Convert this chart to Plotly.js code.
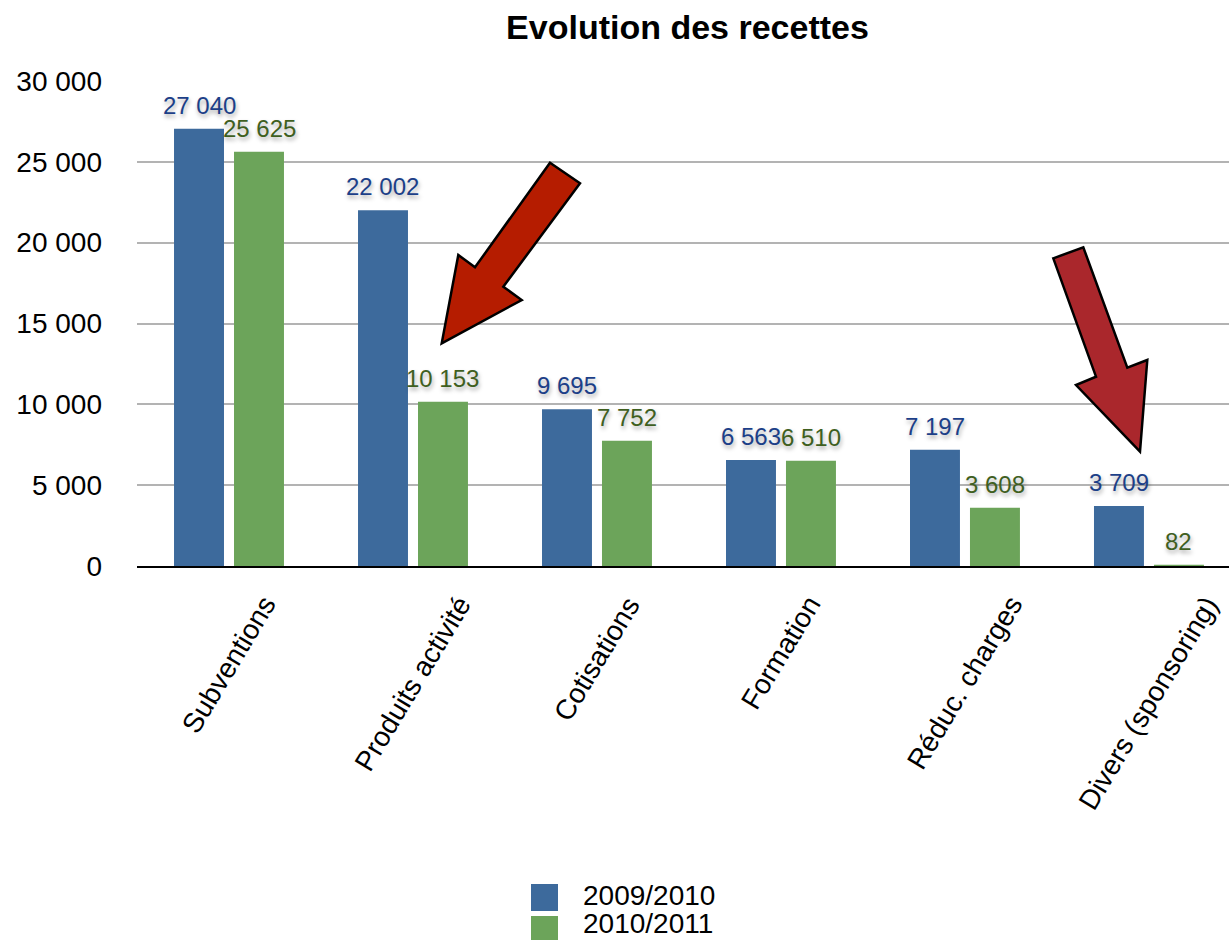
<!DOCTYPE html>
<html>
<head>
<meta charset="utf-8">
<script src="https://cdn.plot.ly/plotly-3.0.1.min.js"></script>
<style>html,body{margin:0;padding:0;background:#fff;}#chart{width:1229px;height:940px;}</style>
</head>
<body>
<div id="chart"></div>
<script>
// ---- data ----
const chartTitle = 'Evolution des recettes';
const categories = ['Subventions', 'Produits activité', 'Cotisations', 'Formation', 'Réduc. charges', 'Divers (sponsoring)'];
const seriesNames = ['2009/2010', '2010/2011'];
const values2009 = [27040, 22002, 9695, 6563, 7197, 3709];
const values2010 = [25625, 10153, 7752, 6510, 3608, 82];
const yTickVals = [0, 5000, 10000, 15000, 20000, 25000, 30000];
const yTickText = ['0', '5 000', '10 000', '15 000', '20 000', '25 000', '30 000'];

// ---- styling ----
const W = 1229, H = 940;
const M = {l: 137, r: 0, t: 81, b: 374};
const PW = W - M.l - M.r, PH = H - M.t - M.b;
const px = x => (x - M.l) / PW;
const py = y => (H - M.b - y) / PH;
const FONT = 'Liberation Sans, Arial, Helvetica, sans-serif';
const colors = ['#3d6a9c', '#6ca45a'];
const labelColors = ['#1c3f88', '#3f5f1f'];
const fmt = v => String(v).replace(/\B(?=(\d{3})+(?!\d))/g, ' ');

const traces = [values2009, values2010].map((vals, i) => ({
  type: 'bar',
  x: categories,
  y: vals,
  name: seriesNames[i],
  marker: {color: colors[i], line: {width: 0}},
  showlegend: false,
  hoverinfo: 'x+y+name'
}));

const annotations = [];
[values2009, values2010].forEach((vals, i) => {
  vals.forEach((v, j) => {
    annotations.push({
      x: categories[j], y: v, xref: 'x', yref: 'y',
      xshift: i === 0 ? -30 : 30, yshift: 8,
      xanchor: 'center', yanchor: 'bottom',
      text: fmt(v), showarrow: false,
      font: {family: FONT, size: 24, color: labelColors[i], shadow: '1px 3px 4px rgba(0,0,0,0.35)'}
    });
  });
});
categories.forEach(c => {
  annotations.push({
    x: c, y: 0, xref: 'x', yref: 'paper',
    xanchor: 'center', yanchor: 'top', yshift: -22,
    text: c, textangle: -59, showarrow: false,
    font: {family: FONT, size: 28, color: '#000'}
  });
});
// legend
const legendY = [895, 923];
seriesNames.forEach((n, i) => {
  annotations.push({
    x: px(582), y: py(legendY[i]), xref: 'paper', yref: 'paper',
    xanchor: 'left', yanchor: 'middle', text: n, showarrow: false, borderpad: 0,
    font: {family: FONT, size: 28, color: '#000'}
  });
});

function pathFrom(pts) {
  return 'M' + pts.map(p => px(p[0]).toFixed(5) + ',' + py(p[1]).toFixed(5)).join(' L') + ' Z';
}
const arrow1 = [[550, 162.7], [580, 183.3], [503.3, 286.7], [521.7, 300], [441.7, 343.3], [458.3, 255], [475, 267.3]];
const arrow2 = [[1053.3, 258.3], [1083.3, 247.3], [1127.3, 367.7], [1147.3, 360], [1140, 451.7], [1076, 385], [1096, 376.7]];

const shapes = [
  {type: 'path', xref: 'paper', yref: 'paper', path: pathFrom(arrow1), fillcolor: '#b51c00', line: {color: '#000', width: 2.5}, layer: 'above'},
  {type: 'path', xref: 'paper', yref: 'paper', path: pathFrom(arrow2), fillcolor: '#aa272c', line: {color: '#000', width: 2.5}, layer: 'above'},
  {type: 'rect', xref: 'paper', yref: 'paper', x0: px(531), x1: px(558), y0: py(884), y1: py(911), fillcolor: colors[0], line: {width: 0}},
  {type: 'rect', xref: 'paper', yref: 'paper', x0: px(531), x1: px(558), y0: py(916), y1: py(943), fillcolor: colors[1], line: {width: 0}}
];

const layout = {
  width: W, height: H,
  margin: M,
  paper_bgcolor: '#fff', plot_bgcolor: '#fff',
  font: {family: FONT, size: 28, color: '#000'},
  title: {
    text: chartTitle, xref: 'container', yref: 'container',
    x: 687.5 / W, y: 1 - 27 / H, xanchor: 'center', yanchor: 'middle',
    font: {family: FONT, size: 34, weight: 'bold', color: '#000'}
  },
  barmode: 'group', bargap: 0.348, bargroupgap: 0.167,
  showlegend: false,
  xaxis: {
    type: 'category', range: [-0.5, 5.435],
    showticklabels: false, ticks: '', showgrid: false, zeroline: false,
    showline: true, linecolor: '#000', linewidth: 2, layer: 'above traces'
  },
  yaxis: {
    range: [0, 30000], tickvals: yTickVals, ticktext: yTickText,
    showgrid: true, gridcolor: '#b3b3b3', gridwidth: 2,
    zeroline: false, showline: false, ticks: '',
    ticklabelstandoff: 34,
    tickfont: {family: FONT, size: 28, color: '#000'}
  },
  annotations: annotations,
  shapes: shapes
};

Plotly.newPlot('chart', traces, layout, {displayModeBar: false, staticPlot: true});
</script>
</body>
</html>
